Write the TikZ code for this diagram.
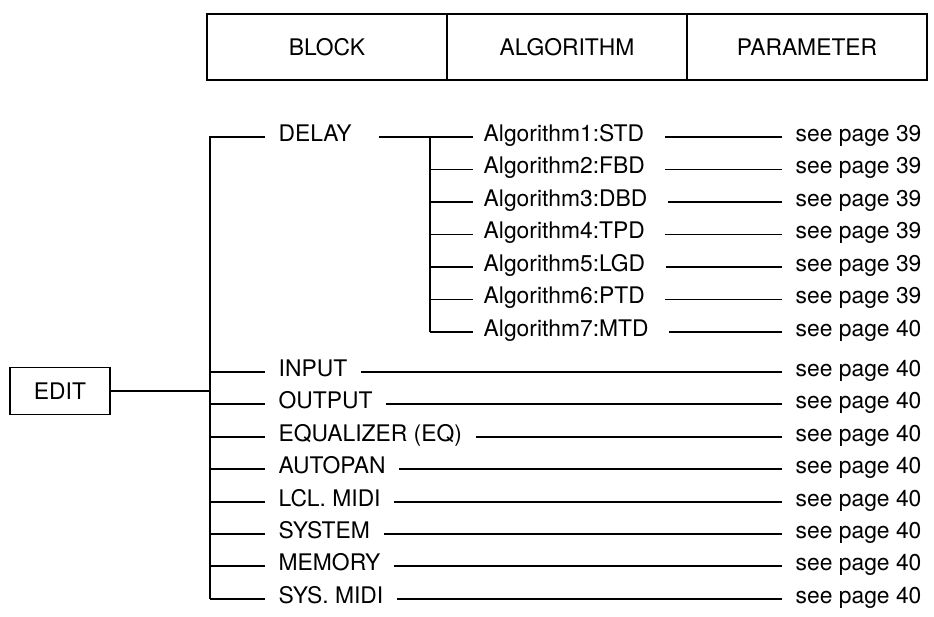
\documentclass[tikz,border=0pt]{standalone}
\usepackage{fontspec}
\setmainfont{TeX Gyre Heros}
\usepackage{tikz}

\begin{document}
\begin{tikzpicture}[x=0.02cm, y=-0.02cm, line width=0.8pt,
    font=\fontsize{13}{15}\selectfont,
    cell/.style={draw, minimum width=4.8cm, minimum height=1.32cm},
    lbl/.style={anchor=west, inner xsep=0.26cm, inner ysep=0pt,
      text height=0.75em, text depth=0.25em}]
  \useasboundingbox (0,0) rectangle (934,617);

  % header
  \node[cell] (hblock) at (327,47) {BLOCK};
  \node[cell] (halgo) at (567,47) {ALGORITHM};
  \node[cell] (hparam) at (807,47) {PARAMETER};

  \node[draw, minimum width=2cm, minimum height=0.94cm] (edit) at (60,391) {EDIT};
  \coordinate (tr) at (210,0);
  \coordinate (sub) at (430,0);

  \node[lbl] (dly) at (265,137) {DELAY};

  % delay algorithms
  \foreach \i/\t/\p in {1/STD/39, 2/FBD/39, 3/DBD/39, 4/TPD/39,
                        5/LGD/39, 6/PTD/39, 7/MTD/40} {
    \pgfmathsetmacro\yy{137+(\i-1)*32.5}
    \node[lbl, inner xsep=0.2cm] (alg\i) at (473,\yy) {Algorithm\i:\t};
    \node[lbl] (apg\i) at (782,\yy) {see page \p};
    \draw[shorten <=0.2cm] (alg\i.east) -- (apg\i.west);
    \draw (alg\i.west -| sub) -- (alg\i.west);
  }
  \draw[shorten <=0.28cm] (dly.east) -- (alg1.west);
  \draw (alg1.west -| sub) -- (alg7.west -| sub);

  % other blocks
  \foreach \i/\t/\yy in {1/INPUT/372, 2/OUTPUT/404, 3/EQUALIZER (EQ)/437,
                         4/AUTOPAN/469, 5/LCL. MIDI/502, 6/SYSTEM/534,
                         7/MEMORY/566, 8/SYS. MIDI/599} {
    \node[lbl] (blk\i) at (265,\yy) {\t};
    \node[lbl] (bpg\i) at (782,\yy) {see page 40};
    \draw (blk\i.east) -- (bpg\i.west);
    \draw (blk\i.west -| tr) -- (blk\i.west);
  }
  \draw (dly.west) -- (dly.west -| tr) -- (blk8.west -| tr);
  \draw (edit.east) -- (edit.east -| tr);
\end{tikzpicture}
\end{document}
